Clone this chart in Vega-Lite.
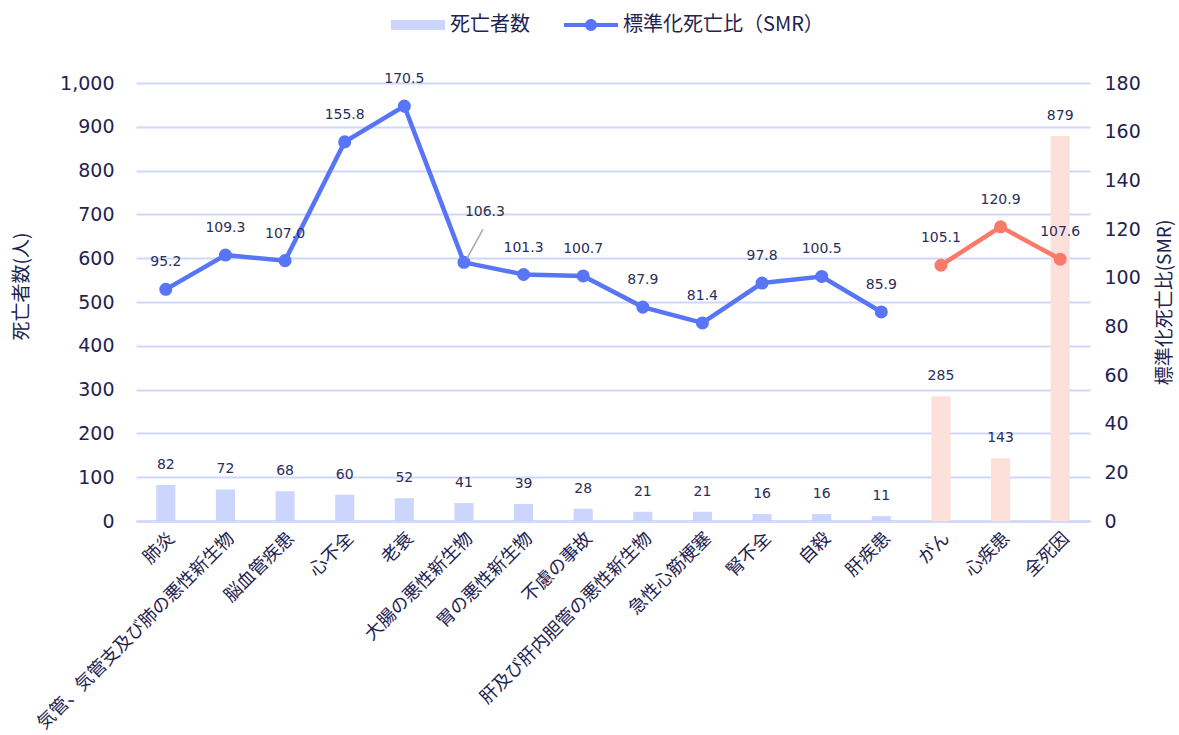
{
  "$schema": "https://vega.github.io/schema/vega-lite/v6.json",
  "autosize": {"type": "none"},
  "width": 954,
  "height": 438,
  "padding": {"left": 136, "top": 83, "right": 89, "bottom": 214},
  "background": "white",
  "config": {
    "font": "DejaVu Sans, Noto Sans CJK JP",
    "view": {"stroke": null},
    "axis": {"labelColor": "#1f2350", "titleColor": "#1f2350", "labelFont": "DejaVu Sans, Noto Sans CJK JP", "titleFont": "Noto Sans CJK JP", "titleFontWeight": "normal"},
    "legend": {"labelFont": "Noto Sans CJK JP"}
  },
  "data": {"values": [
    {"cause": "肺炎", "deaths": 82, "smr": 95.2, "group": "主要死因"},
    {"cause": "気管、気管支及び肺の悪性新生物", "deaths": 72, "smr": 109.3, "group": "主要死因"},
    {"cause": "脳血管疾患", "deaths": 68, "smr": 107.0, "group": "主要死因"},
    {"cause": "心不全", "deaths": 60, "smr": 155.8, "group": "主要死因"},
    {"cause": "老衰", "deaths": 52, "smr": 170.5, "group": "主要死因"},
    {"cause": "大腸の悪性新生物", "deaths": 41, "smr": 106.3, "group": "主要死因"},
    {"cause": "胃の悪性新生物", "deaths": 39, "smr": 101.3, "group": "主要死因"},
    {"cause": "不慮の事故", "deaths": 28, "smr": 100.7, "group": "主要死因"},
    {"cause": "肝及び肝内胆管の悪性新生物", "deaths": 21, "smr": 87.9, "group": "主要死因"},
    {"cause": "急性心筋梗塞", "deaths": 21, "smr": 81.4, "group": "主要死因"},
    {"cause": "腎不全", "deaths": 16, "smr": 97.8, "group": "主要死因"},
    {"cause": "自殺", "deaths": 16, "smr": 100.5, "group": "主要死因"},
    {"cause": "肝疾患", "deaths": 11, "smr": 85.9, "group": "主要死因"},
    {"cause": "がん", "deaths": 285, "smr": 105.1, "group": "総計"},
    {"cause": "心疾患", "deaths": 143, "smr": 120.9, "group": "総計"},
    {"cause": "全死因", "deaths": 879, "smr": 107.6, "group": "総計"}
  ]},
  "encoding": {
    "x": {
      "field": "cause", "type": "nominal", "sort": null,
      "scale": {"paddingInner": 0.68, "paddingOuter": 0.34},
      "axis": {"title": null, "labelAngle": -45, "labelFontSize": 18, "labelFont": "Noto Sans CJK JP", "ticks": false, "labelPadding": 8,
               "domainColor": "#cfd7fc", "domainWidth": 2.5, "grid": false, "labelLimit": 400}
    }
  },
  "layer": [
    {
      "encoding": {
        "y": {"field": "deaths", "type": "quantitative",
              "scale": {"domain": [0, 1000], "nice": false},
              "axis": {"title": "死亡者数(人)", "titleFontSize": 19, "labelFontSize": 19, "format": ",d", "values": [0,100,200,300,400,500,600,700,800,900,1000],
                       "domain": false, "ticks": false, "labelPadding": 22, "titlePadding": 28, "titleY": 203,
                       "gridColor": "#cfd7fc", "gridWidth": 2, "orient": "left"}}
      },
      "layer": [
        {
          "mark": {"type": "bar"},
          "encoding": {
            "color": {
              "datum": "死亡者数", "type": "nominal",
              "condition": {"test": "datum.group === '総計'", "value": "#fde0da"},
              "scale": {"domain": ["死亡者数", "標準化死亡比（SMR）"], "range": ["#ccd6fd", "#5875f6"]},
              "legend": {
                "orient": "none", "legendX": 255, "legendY": -85, "direction": "horizontal", "title": null,
                "labelFontSize": 20, "labelColor": "#1f2350", "labelOffset": 5, "columnPadding": 34, "labelLimit": 400,
                "symbolSize": 2916, "symbolStrokeWidth": 0,
                "encode": {"symbols": {"update": {
                  "shape": {"signal": "datum.value === '死亡者数' ? 'M-1,-0.185H1V0.185H-1Z' : 'M-1,-0.074H-0.21V0.074H-1Z M0.21,-0.074H1V0.074H0.21Z M0.22,0A0.22,0.22 0 1,1 -0.22,0A0.22,0.22 0 1,1 0.22,0Z'"},
                  "fill": {"signal": "datum.value === '死亡者数' ? '#ccd6fd' : '#5875f6'"},
                  "strokeWidth": {"value": 0},
                  "opacity": {"value": 1}
                }}}
              }
            }
          }
        },
        {
          "mark": {"type": "text", "dy": -13, "fontSize": 14, "color": "#2b2e5a", "baseline": "bottom"},
          "encoding": {"text": {"field": "deaths", "type": "quantitative", "format": ","}}
        }
      ]
    },
    {
      "encoding": {
        "y": {"field": "smr", "type": "quantitative",
              "scale": {"domain": [0, 180], "nice": false},
              "axis": {"title": "標準化死亡比(SMR)", "titleFontSize": 19, "labelFontSize": 19, "orient": "right",
                       "values": [0,20,40,60,80,100,120,140,160,180], "grid": false, "domain": false, "ticks": false,
                       "labelPadding": 14, "titlePadding": 34, "titleAngle": 270}}
      },
      "layer": [
        {
          "mark": {"type": "line", "strokeWidth": 4.5},
          "encoding": {
            "detail": {"field": "group"},
            "color": {"datum": "標準化死亡比（SMR）", "type": "nominal",
                      "condition": {"test": "datum.group === '総計'", "value": "#f97a68"}}
          }
        },
        {
          "mark": {"type": "point", "filled": true, "size": 170, "opacity": 1},
          "encoding": {
            "color": {"datum": "標準化死亡比（SMR）", "type": "nominal",
                      "condition": {"test": "datum.group === '総計'", "value": "#f97a68"}}
          }
        },
        {
          "transform": [{"filter": "datum.cause !== '大腸の悪性新生物'"}],
          "mark": {"type": "text", "dy": -27, "fontSize": 14, "color": "#2b2e5a"},
          "encoding": {"text": {"field": "smr", "type": "quantitative", "format": ".1f"}}
        },
        {
          "transform": [{"filter": "datum.cause === '大腸の悪性新生物'"}],
          "mark": {"type": "text", "dx": 21, "dy": -50, "fontSize": 14, "color": "#2b2e5a"},
          "encoding": {"text": {"field": "smr", "type": "quantitative", "format": ".1f"}}
        },
        {
          "transform": [{"filter": "datum.cause === '大腸の悪性新生物'"}],
          "mark": {"type": "rule", "color": "#a8a8a8", "strokeWidth": 1.5, "xOffset": 3, "yOffset": -4, "x2Offset": 19, "y2Offset": -33},
          "encoding": {"x2": {"field": "cause"}, "y2": {"field": "smr"}}
        }
      ]
    }
  ],
  "resolve": {"scale": {"y": "independent"}}
}
